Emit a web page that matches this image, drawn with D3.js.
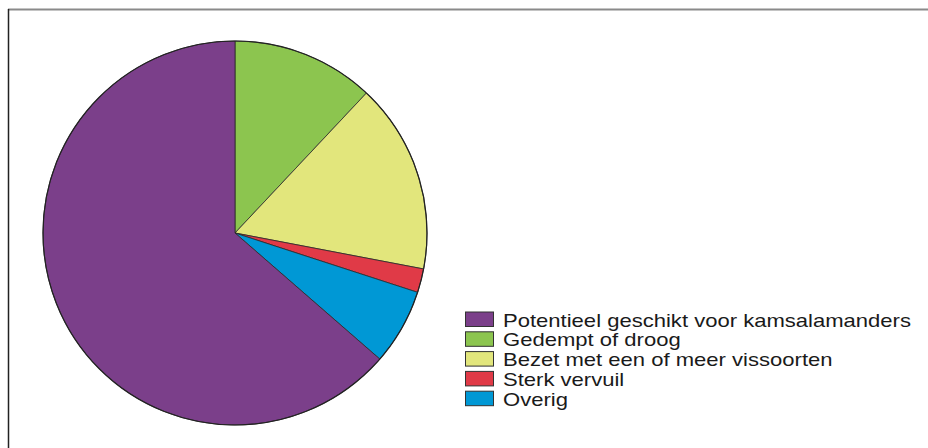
<!DOCTYPE html>
<html><head><meta charset="utf-8">
<script src="https://cdn.jsdelivr.net/npm/d3@7"></script>
<style>body{margin:0;background:#fff}svg{display:block}</style>
</head><body>
<svg id="c" width="928" height="448"></svg>
<script>
const categories = ["Potentieel geschikt voor kamsalamanders","Gedempt of droog","Bezet met een of meer vissoorten","Sterk vervuil","Overig"];
const values = [63.6, 12.0, 16.0, 2.0, 6.4];
const colors = ["#7b3f8a","#8cc54f","#e2e67c","#e03a47","#0098d5"];
// drawing order clockwise from 12 o'clock
const drawOrder = [1,2,3,4,0];

const svg = d3.select("#c");
// frame
svg.append("line").attr("x1",8).attr("x2",928).attr("y1",9.5).attr("y2",9.5).attr("stroke","#8a8a8a").attr("stroke-width",2);
svg.append("line").attr("x1",8.5).attr("x2",8.5).attr("y1",9).attr("y2",448).attr("stroke","#222").attr("stroke-width",1.5);

const cx = 235, cy = 233, r = 192;
const pie = d3.pie().sort(null).value(i => values[i]);
const arcs = pie(drawOrder);
const arc = d3.arc().innerRadius(0).outerRadius(r);
const g = svg.append("g").attr("transform",`translate(${cx},${cy})`);
g.selectAll("path").data(arcs).join("path")
  .attr("d",arc)
  .attr("fill",d=>colors[d.data])
  .attr("stroke","#2a2a2a").attr("stroke-width",0.8).attr("stroke-linejoin","round");
g.append("circle").attr("r",r).attr("fill","none").attr("stroke","#222").attr("stroke-width",1.2);

// legend
const lx = 465, ly = 311.5, step = 19.8;
const lg = svg.append("g");
categories.forEach((c,i)=>{
  const y = ly + i*step;
  lg.append("rect").attr("x",lx+0.5).attr("y",y+0.5).attr("width",28).attr("height",14.5)
    .attr("fill",colors[i]).attr("stroke","#333").attr("stroke-width",1);
  const t = lg.append("text").attr("x",503).attr("y",y+15).text(c)
    .attr("font-family","Liberation Sans, Arial, sans-serif").attr("font-size",19).attr("fill","#1a1a1a");
  const w = t.node().getComputedTextLength();
  t.attr("textLength", w*1.16).attr("lengthAdjust","spacingAndGlyphs");
});
</script>
</body></html>
